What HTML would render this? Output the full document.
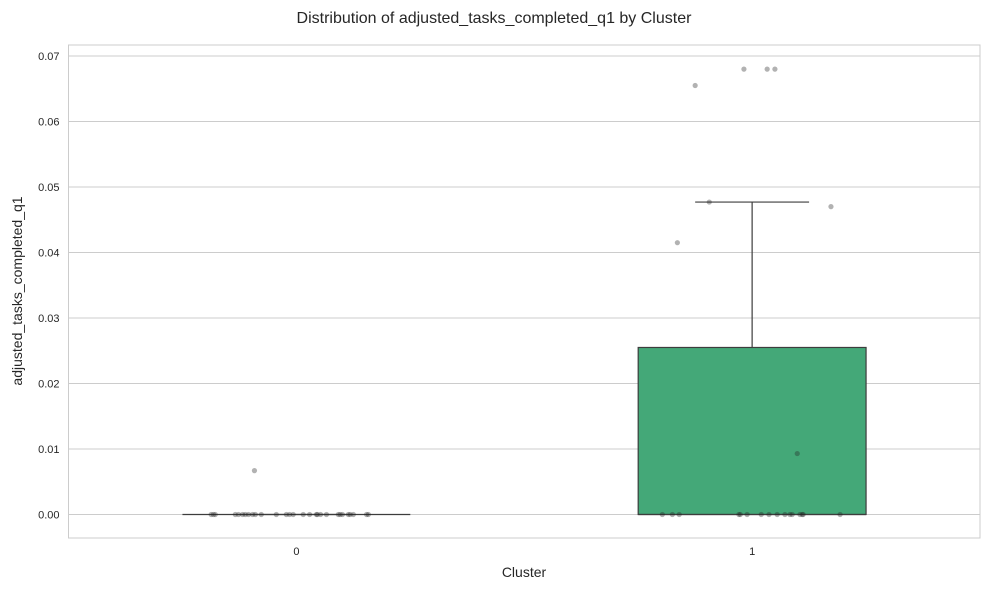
<!DOCTYPE html>
<html><head><meta charset="utf-8"><style>
body{margin:0;background:#fff;font-family:"Liberation Sans",sans-serif}
</style></head><body>
<svg id="chart" width="989" height="590" xmlns="http://www.w3.org/2000/svg" font-family="Liberation Sans, sans-serif">
<text x="494" y="23" text-anchor="middle" font-size="16" fill="#262626">Distribution of adjusted_tasks_completed_q1 by Cluster</text>
<text transform="translate(22,291) rotate(-90)" text-anchor="middle" font-size="14" fill="#262626">adjusted_tasks_completed_q1</text>
<text x="524" y="577" text-anchor="middle" font-size="14" fill="#262626">Cluster</text>
<g id="plot"></g>
</svg>
<script>
const categories = ["0","1"];
const yTicks = [0,0.01,0.02,0.03,0.04,0.05,0.06,0.07];
const yTickLabels = ["0.00","0.01","0.02","0.03","0.04","0.05","0.06","0.07"];
const q1 = [0, 0];
const median = [0, 0];
const q3 = [0, 0.0255];
const whiskerHigh = [0, 0.0477];
const pointCat = [0,0,0,0,0,0,0,0,0,0,0,0,0,0,0,0,0,0,0,0,0,0,0,0,0,0,0,0,0,
  1,1,1,1,1,1,1,1,1,1,1,1,1,1,1,1,1,1,1,1,1,1,1,1];
const pointJitter = [-0.187,-0.182,-0.178,-0.134,-0.127,-0.118,-0.112,-0.105,-0.096,-0.090,-0.077,-0.044,-0.022,-0.015,-0.007,0.015,0.029,0.044,0.046,0.053,0.066,0.092,0.096,0.101,0.114,0.118,0.125,0.154,0.158,
  -0.197,-0.175,-0.160,-0.029,-0.026,-0.011,0.020,0.037,0.055,0.072,0.083,0.088,0.105,0.110,0.112,0.193,
  -0.125,-0.094,-0.164,-0.018,0.033,0.050,0.173,0.099];
const pointValue = [0,0,0,0,0,0,0,0,0,0,0,0,0,0,0,0,0,0,0,0,0,0,0,0,0,0,0,0,0,
  0,0,0,0,0,0,0,0,0,0,0,0,0,0,0,0,
  0.0655,0.0477,0.0415,0.068,0.068,0.068,0.047,0.0093];
const outCat = [0];
const outJitter = [-0.092];
const outValue = [0.0067];

const L=68.5,R=980,T=45,B=538;
const y0px=514.5, pxPerUnit=6550;
const y = v => y0px - v*pxPerUnit;
const catW = (R-L)/categories.length;
const x = c => L + catW*(c+0.5);
const NS="http://www.w3.org/2000/svg";
const g=document.getElementById('plot');
function mk(tag,attrs){const e=document.createElementNS(NS,tag);for(const k in attrs)e.setAttribute(k,attrs[k]);g.appendChild(e);return e;}

const frame=mk('rect',{x:L,y:T,width:R-L,height:B-T,fill:'none',stroke:'#cccccc','stroke-width':1});


yTicks.forEach((t,i)=>{
  const ln=mk('line',{x1:L,x2:R,y1:y(t),y2:y(t),stroke:'#cccccc','stroke-width':1});
  
  
  const tx=mk('text',{x:L-9,y:y(t)+4,'text-anchor':'end','font-size':11,fill:'#262626'});
  tx.textContent=yTickLabels[i];
  
  
});
categories.forEach((c,i)=>{
  const tx=mk('text',{x:x(i),y:B+17,'text-anchor':'middle','font-size':11,fill:'#262626'});
  tx.textContent=c;
  
  
  const bw=catW*0.5;
  const wl=mk('line',{x1:x(i),x2:x(i),y1:y(q3[i]),y2:y(whiskerHigh[i]),stroke:'#3d3d3d','stroke-width':1.2});
  
  
  const cap=mk('line',{x1:x(i)-bw/4,x2:x(i)+bw/4,y1:y(whiskerHigh[i]),y2:y(whiskerHigh[i]),stroke:'#3d3d3d','stroke-width':1.2});
  
  
  const bx=mk('rect',{x:x(i)-bw/2,y:y(q3[i]),width:bw,height:Math.max(0,y(q1[i])-y(q3[i])),fill:'#44a878',stroke:'#3d3d3d','stroke-width':1.2});
  
  
  const md=mk('line',{x1:x(i)-bw/2,x2:x(i)+bw/2,y1:y(median[i]),y2:y(median[i]),stroke:'#3d3d3d','stroke-width':1.2});
  
  
});
function dot(cx,cy){const d=mk('circle',{cx:cx,cy:cy,r:2.6,fill:'#222',opacity:0.35});return d;}
pointValue.forEach((v,i)=>{
  const d=dot(x(pointCat[i])+pointJitter[i]*catW,y(v));
  
  
});
outValue.forEach((v,i)=>{
  const d=dot(x(outCat[i])+outJitter[i]*catW,y(v));
  
  
});
</script>
</body></html>
